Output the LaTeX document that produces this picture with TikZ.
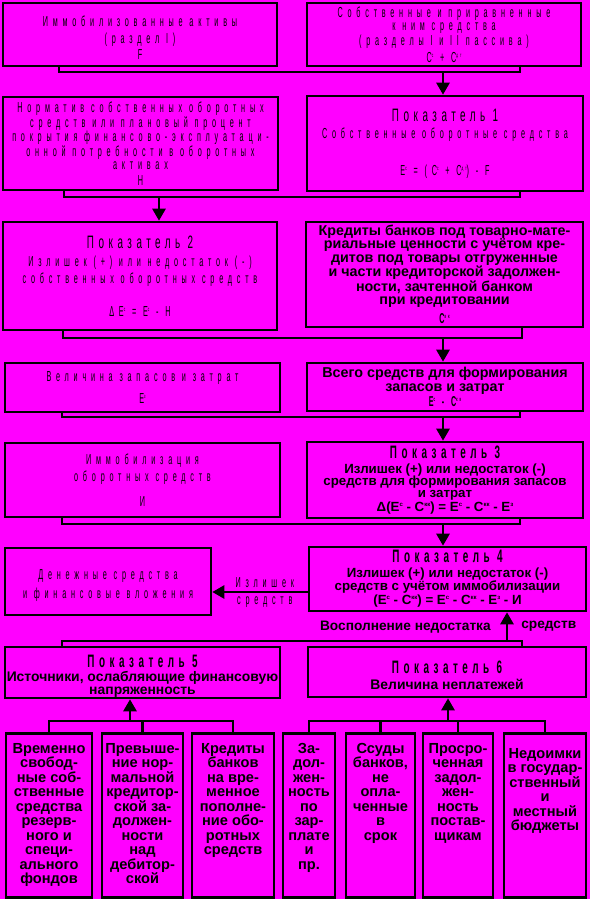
\documentclass[tikz,border=0pt]{standalone}
\usepackage{fontspec}
\setmainfont{Liberation Sans}
\newfontfamily\spc[FakeStretch=0.5,LetterSpace=33]{Liberation Sans}
\newfontfamily\ttl[FakeStretch=0.55,LetterSpace=25]{Liberation Sans}
\usetikzlibrary{arrows.meta}
\definecolor{pinkbg}{RGB}{255,0,255}
\newcommand\supr[1]{\raisebox{5pt}{\fontsize{6}{6}\selectfont #1}}
\newcommand\pok[1]{{\ttl\fontsize{18}{18}\selectfont Показатель #1}}
\newcommand\colt[2]{\parbox[c][158pt][t]{#1}{\centering\rule{0pt}{17pt}#2}}
\begin{document}
\begin{tikzpicture}[x=1pt, y=-1pt,
   box/.style={draw, line width=2.6pt, align=center, inner sep=0pt},
   thin/.style={font=\fontsize{14.5}{13.5}\spc},
   heavy/.style={font=\fontsize{13.9}{13}\selectfont\bfseries},
   heavybig/.style={font=\fontsize{14.3}{13.3}\selectfont\bfseries},
   heavysm/.style={font=\fontsize{13.3}{12.4}\selectfont\bfseries},
   col/.style={draw, line width=2.6pt, anchor=north, inner sep=0pt,
      minimum height=164pt, font=\fontsize{14.6}{14.5}\selectfont\bfseries},
   lbl/.style={inner sep=0pt, font=\fontsize{13.7}{12}\selectfont\bfseries},
   conn/.style={line width=2.6pt},
   arr/.style={line width=2.6pt, -{Triangle[width=13pt,length=12pt]}}]
\fill[pinkbg] (0,0) rectangle (590,899);
\useasboundingbox (0,0) rectangle (590,899);
% upper row of boxes
\node[box, thin, minimum width=274pt, minimum height=63pt] (immob) at (140,34.5)
  {\rule{0pt}{17pt}Иммобилизованные активы\\[4pt](раздел I)\\[2pt]F};
\node[box, thin, minimum width=274pt, minimum height=63pt] (own) at (444,34.5)
  {Собственные и приравненные\\к ним средства\\(разделы I и II пассива)\\[3pt]С\supr{с} + С\supr{дт}};
\node[box, thin, minimum width=275pt, minimum height=93pt] (norm) at (140.5,143.5)
  {Норматив собственных оборотных\\средств или плановый процент\\покрытия финансово-эксплуатаци-\\онной потребности в оборотных\\активах\\[2pt]Н};
\node[box, thin, minimum width=276pt, minimum height=95pt] (pok1) at (445,143.5)
  {\pok{1}\\[4pt]Собственные оборотные средства\\[22pt]Е\supr{с} = (С\supr{с} + С\supr{дт}) - F};
\node[box, thin, minimum width=274pt, minimum height=108pt] (pok2) at (140,276)
  {\pok{2}\\[5pt]Излишек (+) или недостаток (-)\\[2pt]собственных оборотных средств\\[19pt]ΔЕ\supr{с} = Е\supr{с} - Н};
\node[box, heavybig, minimum width=277pt, minimum height=105pt] (cred) at (444.5,274.5)
  {Кредиты банков под товарно-мате-\\риальные ценности с учётом кре-\\дитов под товары отгруженные\\и части кредиторской задолжен-\\ности, зачтенной банком\\при кредитовании\\[6pt]{\spc С\supr{кк}}};
\node[box, thin, minimum width=275pt, minimum height=49pt] (zap) at (142.5,387.5)
  {Величина запасов и затрат\\[9pt]Е\supr{з}};
\node[box, heavybig, minimum width=276pt, minimum height=48pt] (total) at (445,387)
  {Всего средств для формирования\\запасов и затрат\\[2pt]{\spc Е\supr{с} - С\supr{кк}}};
\node[box, thin, minimum width=275pt, minimum height=74pt] (immobil) at (142.5,480)
  {Иммобилизация\\[3pt]оборотных средств\\[11pt]И};
\node[box, heavysm, minimum width=276pt, minimum height=76pt] (pok3) at (445,480)
  {\pok{3}\\[2pt]Излишек (+) или недостаток (-)\\средств для формирования запасов\\и затрат\\[1pt]Δ(Е\supr{с} - С\supr{кк}) = Е\supr{с} - С\supr{кк} - Е\supr{з}};
\node[box, thin, minimum width=206pt, minimum height=67pt] (money) at (108,581.5)
  {\rule{0pt}{18pt}Денежные средства\\[4pt]и финансовые вложения};
\node[box, heavysm, minimum width=277pt, minimum height=64pt] (pok4) at (447.5,579)
  {\pok{4}\\[2pt]Излишек (+) или недостаток (-)\\средств с учётом иммобилизации\\[2pt](Е\supr{с} - С\supr{кк}) = Е\supr{с} - С\supr{кк} - Е\supr{з} - И};
\node[box, heavy, minimum width=275pt, minimum height=51pt] (pok5) at (142.5,672.5)
  {\rule{0pt}{19pt}\pok{5}\\[1pt]Источники, ослабляющие финансовую\\напряженность};
\node[box, heavy, minimum width=278pt, minimum height=50pt] (pok6) at (447,672)
  {\rule{0pt}{19pt}\pok{6}\\[3pt]Величина неплатежей};
% lower row
\node[col, minimum width=86pt] (ca) at (49,732) {\colt{84pt}{Временно\\свобод-\\ные соб-\\ственные\\средства\\резерв-\\ного и\\специ-\\ального\\фондов}};
\node[col, minimum width=81pt] (cb) at (142.5,732) {\colt{79pt}{Превыше-\\ние нор-\\мальной\\кредитор-\\ской за-\\должен-\\ности\\над\\дебитор-\\ской}};
\node[col, minimum width=82pt] (cc) at (233,732) {\colt{80pt}{Кредиты\\банков\\на вре-\\менное\\пополне-\\ние обо-\\ротных\\средств}};
\node[col, minimum width=52pt] (cd) at (309,732) {\colt{50pt}{За-\\дол-\\жен-\\ность\\по\\зар-\\плате\\и\\пр.}};
\node[col, minimum width=69pt] (ce) at (380.5,732) {\colt{67pt}{Ссуды\\банков,\\не\\опла-\\ченные\\в\\срок}};
\node[col, minimum width=70pt] (cf) at (458,732) {\colt{68pt}{Просро-\\ченная\\задол-\\жен-\\ность\\постав-\\щикам}};
\node[col, minimum width=82pt] (cg) at (545,732) {\colt{80pt}{\rule{0pt}{22pt}Недоимки\\в государ-\\ственный\\и\\местный\\бюджеты}};
% junctions
\coordinate (j1) at (443,72);
\coordinate (j2) at (159,197);
\coordinate (j3) at (443,338);
\coordinate (j4) at (443,417);
\coordinate (j5) at (443,524);
\coordinate (j6) at (507,641);
\coordinate (j7) at (130,721);
\coordinate (j8) at (448,721);
% connectors
\draw[conn] ([xshift=-81pt]immob.south) |- (j1) -| ([xshift=76pt]own.south);
\draw[arr] (j1) -- (j1 |- pok1.north);
\draw[conn] ([xshift=-76.5pt]norm.south) |- (j2) -| ([xshift=75pt]pok1.south);
\draw[arr] (j2) -- (j2 |- pok2.north);
\draw[conn] ([xshift=-77pt]pok2.south) |- (j3) -| ([xshift=77.5pt]cred.south);
\draw[arr] (j3) -- (j3 |- total.north);
\draw[conn] ([xshift=-80.5pt]zap.south) |- (j4) -| ([xshift=75pt]total.south);
\draw[arr] (j4) -- (j4 |- pok3.north);
\draw[conn] ([xshift=-80.5pt]immobil.south) |- (j5) -| ([xshift=75pt]pok3.south);
\draw[arr] (j5) -- (j5 |- pok4.north);
\draw[arr] ([yshift=-13pt]pok4.west) -- node[pos=0.45, above=3pt, inner sep=0pt, thin]{Излишек}
   node[pos=0.45, below=3pt, inner sep=0pt, thin]{средств} ([yshift=-13pt]pok4.west -| money.east);
\draw[conn] ([xshift=-80.5pt]pok5.north) |- (j6) -| ([xshift=75pt]pok6.north);
\draw[arr] (j6) -- node[lbl, left=15pt]{Восполнение недостатка}
   node[lbl, right=13pt]{средств} (j6 |- pok4.south);
\draw[conn] (ca.north) -- ++(0,-11) -| (cc.north);
\draw[conn] (cb.north) -- (cb.north |- j7);
\draw[arr] (j7) -- (j7 |- pok5.south);
\draw[conn] (cd.north) -- ++(0,-11) -| (cg.north);
\draw[conn] (ce.north) -- (ce.north |- j8);
\draw[conn] (cf.north) -- (cf.north |- j8);
\draw[arr] (j8) -- (j8 |- pok6.south);
\end{tikzpicture}
\end{document}
